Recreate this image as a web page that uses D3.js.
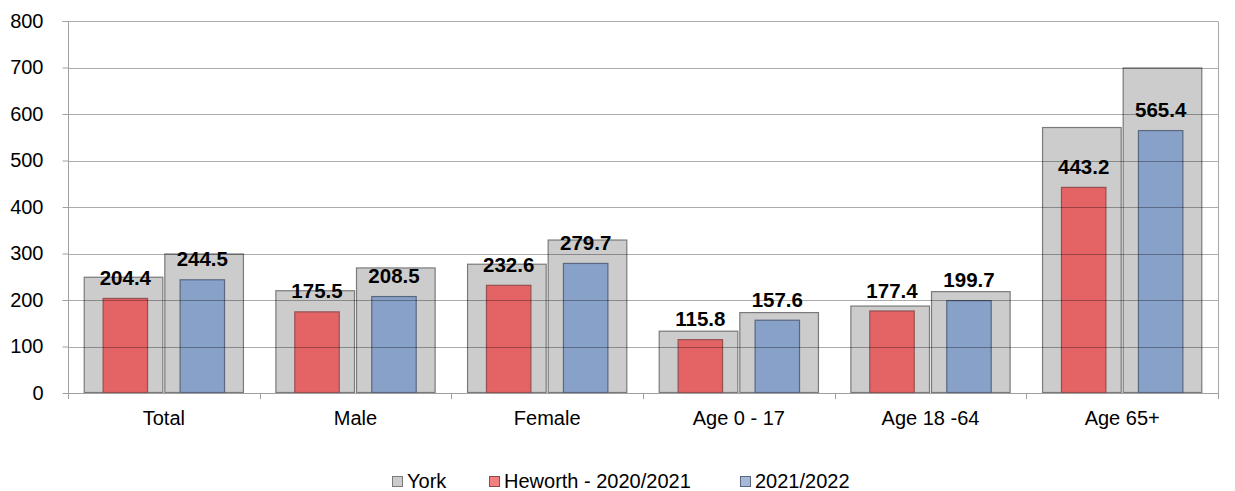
<!DOCTYPE html>
<html><head><meta charset="utf-8">
<script src="https://cdn.jsdelivr.net/npm/d3@7"></script>
<style>body{margin:0;background:#fff;}svg{display:block;font-family:"Liberation Sans",Arial,sans-serif;}</style>
</head><body><svg id="c" width="1235" height="491"></svg>
<script>
const categories = ["Total","Male","Female","Age 0 - 17","Age 18 -64","Age 65+"];
const york2021 = [250, 221, 278, 134, 188, 572];
const york2022 = [300, 270, 330, 174, 219, 700];
const heworth2021 = [204.4, 175.5, 232.6, 115.8, 177.4, 443.2];
const heworth2022 = [244.5, 208.5, 279.7, 157.6, 199.7, 565.4];
const yTicks = [0,100,200,300,400,500,600,700,800];
const legendLabels = ["York","Heworth - 2020/2021","2021/2022"];

const svg = d3.select("#c");
const L = 68, R = 1218, T = 21, B = 393;
const x = d3.scaleBand().domain(categories).range([L, R]).padding(0);
const y = d3.scaleLinear().domain([0, 800]).range([B, T]);
const xGrey = d3.scaleBand().domain(["a","b"]).range([0, x.bandwidth()]).paddingInner(0.0125).paddingOuter(0.195);
const xCol = d3.scaleBand().domain(["a","b"]).range([0, x.bandwidth()]).paddingInner(0.41).paddingOuter(0.45);

const greyFill = "#cccccc", greyStroke = "#7a7a7a";
const redFill = "#e46466", redStroke = "#94504f";
const blueFill = "#88a1c9", blueStroke = "#59687f";

const gG = svg.append("g");
categories.forEach((c, i) => {
  [["a", york2021[i]], ["b", york2022[i]]].forEach(([k, v]) => {
    gG.append("rect")
      .attr("x", x(c) + xGrey(k) + 0.5).attr("y", y(v) + 0.5)
      .attr("width", xGrey.bandwidth() - 1).attr("height", y(0) - y(v) - 1)
      .attr("fill", greyFill).attr("stroke", greyStroke).attr("stroke-width", 1.2);
  });
});
const gC = svg.append("g");
categories.forEach((c, i) => {
  [["a", heworth2021[i], redFill, redStroke], ["b", heworth2022[i], blueFill, blueStroke]].forEach(([k, v, f, s]) => {
    gC.append("rect")
      .attr("x", x(c) + xCol(k) + 0.5).attr("y", y(v) + 0.5)
      .attr("width", xCol.bandwidth() - 1).attr("height", y(0) - y(v) - 1)
      .attr("fill", f).attr("stroke", s).attr("stroke-width", 1.2);
  });
});

svg.append("g").selectAll("line").data(yTicks.filter(d => d > 0)).join("line")
  .attr("x1", L).attr("x2", R)
  .attr("y1", d => Math.round(y(d)) + 0.5).attr("y2", d => Math.round(y(d)) + 0.5)
  .attr("stroke", "#000").attr("stroke-opacity", 0.33).attr("stroke-width", 1);

svg.append("line").attr("x1", R + 0.5).attr("x2", R + 0.5).attr("y1", Math.round(y(800)) + 0.5).attr("y2", B + 6)
  .attr("stroke", "#a6a6a6");

const yAxis = svg.append("g").attr("transform", `translate(${L + 0.5},0)`)
  .call(d3.axisLeft(y).tickValues(yTicks).tickSize(6).tickPadding(19).tickFormat(d3.format("d")));
yAxis.select(".domain").attr("stroke", "#a0a0a0").attr("d", `M-6,${Math.round(y(800))+0.5}H0V${B+0.5}`);
yAxis.selectAll(".tick line").attr("stroke", "#a0a0a0");
yAxis.selectAll(".tick text").attr("font-size", 20).attr("fill", "#000").attr("font-family", "Liberation Sans, Arial, sans-serif");

const xAxis = svg.append("g").attr("transform", `translate(0,${B + 0.5})`)
  .call(d3.axisBottom(x).tickSize(0).tickPadding(17));
xAxis.select(".domain").attr("stroke", "#a0a0a0").attr("d", `M${L},0H${R}`);
xAxis.selectAll(".tick text").attr("font-size", 20).attr("fill", "#000").attr("font-family", "Liberation Sans, Arial, sans-serif");
const seps = categories.map(c => x(c)).concat([R]);
svg.append("g").selectAll("line").data(seps).join("line")
  .attr("x1", d => Math.round(d) + 0.5).attr("x2", d => Math.round(d) + 0.5)
  .attr("y1", B).attr("y2", B + 6).attr("stroke", "#a0a0a0");

const gL = svg.append("g").attr("font-weight", "bold").attr("font-size", 20.5).attr("text-anchor", "middle").attr("fill", "#000");
categories.forEach((c, i) => {
  [["a", heworth2021[i]], ["b", heworth2022[i]]].forEach(([k, v]) => {
    gL.append("text").attr("x", x(c) + xCol(k) + xCol.bandwidth() / 2).attr("y", y(v) - 13).text(d3.format(".1f")(v));
  });
});

const legend = svg.append("g").attr("font-size", 20).attr("fill", "#000");
const lx = [392, 489, 740];
const fills = [[greyFill, greyStroke], ["#f28080", "#8a4a4b"], ["#a5b8d8", "#59687f"]];
legendLabels.forEach((t, i) => {
  legend.append("rect").attr("x", lx[i] + 0.5).attr("y", 476.5).attr("width", 10).attr("height", 10)
    .attr("fill", fills[i][0]).attr("stroke", fills[i][1]).attr("stroke-width", 1);
  legend.append("text").attr("x", lx[i] + 15).attr("y", 488).text(t);
});
</script></body></html>
